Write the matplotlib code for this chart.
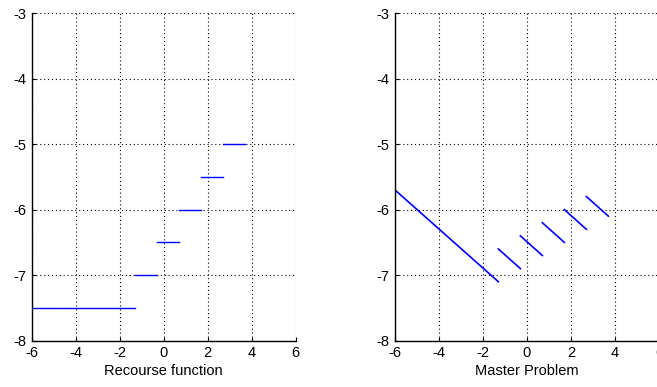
import numpy as np
import matplotlib.pyplot as plt
import matplotlib as mpl

mpl.rcParams['font.family'] = ['Liberation Sans', 'DejaVu Sans']
mpl.rcParams['font.size'] = 10
mpl.rcParams['axes.unicode_minus'] = False

# Recourse function: horizontal steps (x start, x end, level)
step_x0 = [-6.0, -1.3, -0.3, 0.7, 1.7, 2.7]
step_x1 = [-1.3, -0.3, 0.7, 1.7, 2.7, 3.7]
step_y = [-7.5, -7.0, -6.5, -6.0, -5.5, -5.0]

# Master problem: sloped cuts (x start, x end, y start, y end)
cut_x0 = [-6.0, -1.3, -0.3, 0.7, 1.7, 2.7]
cut_x1 = [-1.3, -0.3, 0.7, 1.7, 2.7, 3.7]
cut_y0 = [-5.7, -6.6, -6.4, -6.2, -6.0, -5.8]
cut_y1 = [-7.1, -6.9, -6.7, -6.5, -6.3, -6.1]

fig = plt.figure(figsize=(6.57, 3.87), dpi=100)
ax1 = fig.add_axes([0.0482, 0.1196, 0.4018, 0.8468])
ax2 = fig.add_axes([0.6012, 0.1196, 0.4018, 0.8468])


def style(ax, label):
    ax.set_xlim(-6, 6)
    ax.set_ylim(-8, -3)
    ax.set_xticks(np.arange(-6, 7, 2))
    ax.set_yticks(np.arange(-8, -2, 1))
    ax.grid(True, color='black', linestyle=(0, (1, 2.5)), linewidth=0.8)
    ax.spines['top'].set_visible(False)
    ax.spines['right'].set_visible(False)
    ax.spines['left'].set_linewidth(1.0)
    ax.spines['bottom'].set_linewidth(1.0)
    ax.tick_params(direction='in', length=3, labelsize=10.5)
    ax.tick_params(axis='x', pad=4)
    ax.tick_params(axis='y', pad=4)
    ax.set_xlabel(label, labelpad=3, fontsize=10.5)


for i in range(len(step_y)):
    ax1.plot([step_x0[i], step_x1[i]], [step_y[i], step_y[i]], color='blue', linewidth=1.0)
style(ax1, 'Recourse function')

for i in range(len(cut_y0)):
    ax2.plot([cut_x0[i], cut_x1[i]], [cut_y0[i], cut_y1[i]], color='blue', linewidth=1.2)
style(ax2, 'Master Problem')

plt.savefig('out.png', dpi=100)
